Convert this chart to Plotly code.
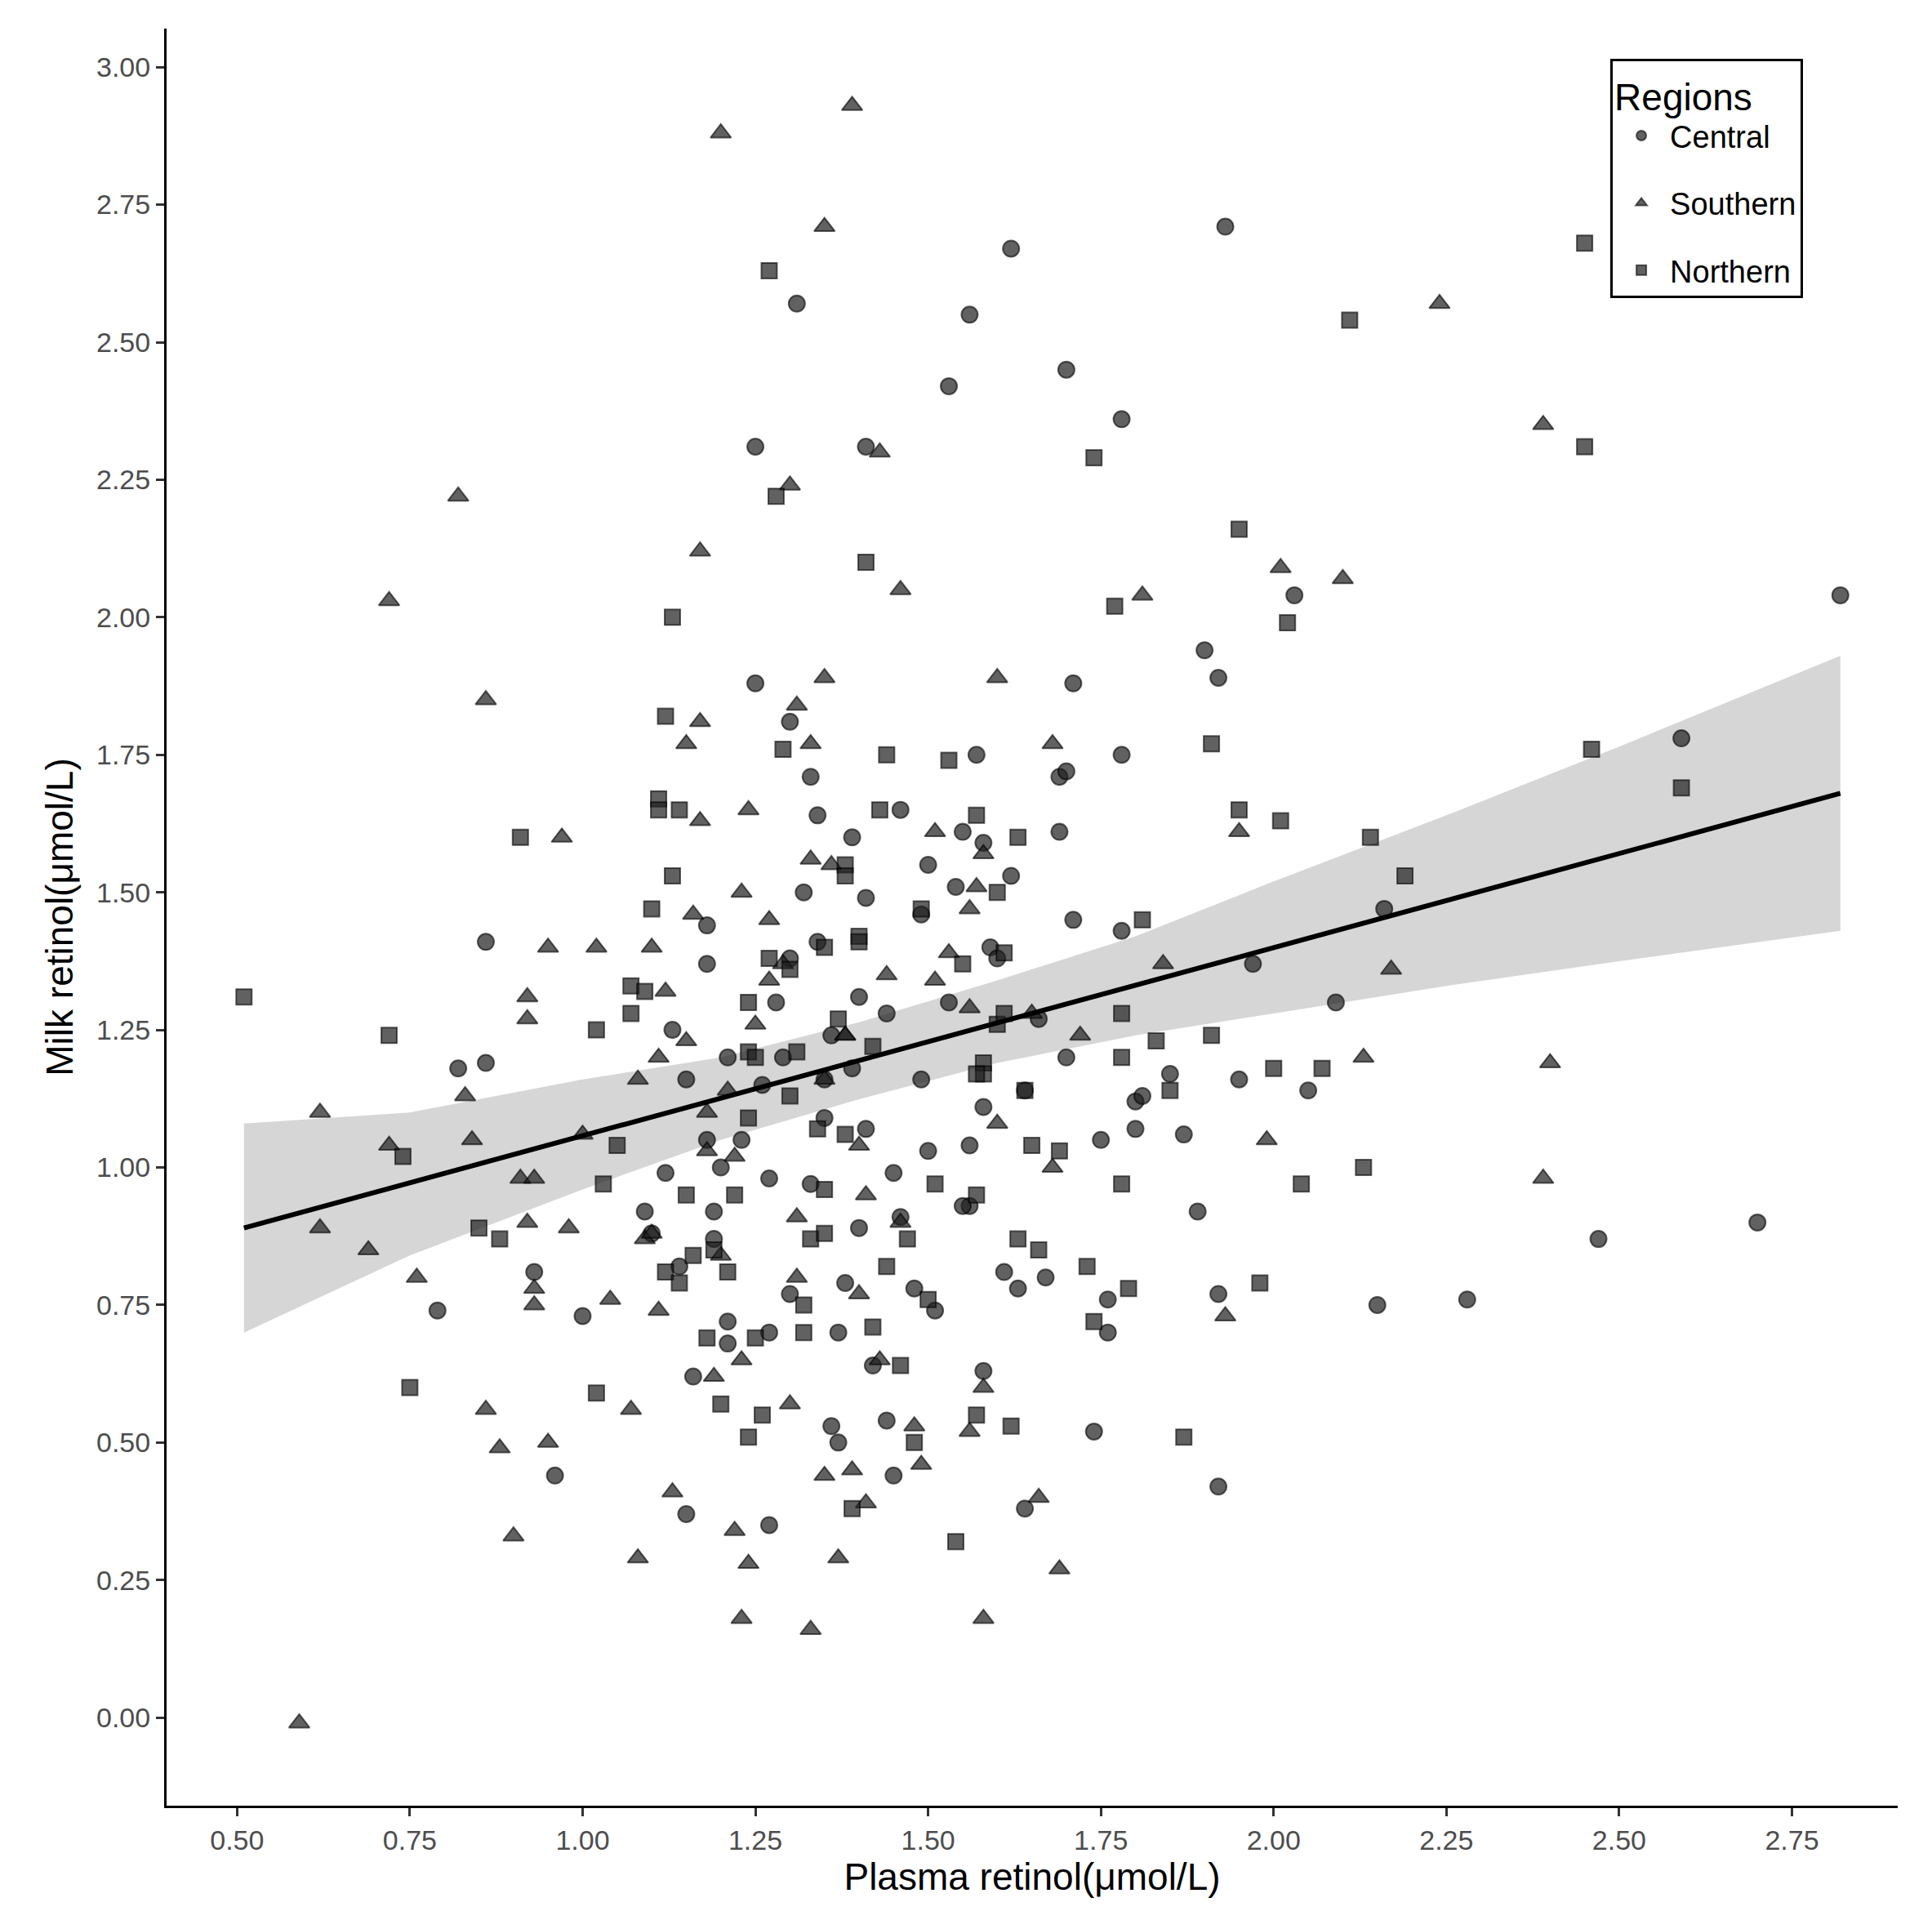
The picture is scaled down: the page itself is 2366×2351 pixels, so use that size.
import plotly.graph_objects as go

central = [(0.82,1.18),(0.86,1.19),(0.86,1.41),(0.79,0.74),(0.93,0.81),(0.96,0.44),(1.00,0.73),(1.09,0.92),(1.12,0.99),(1.13,1.25),(1.15,1.16),(1.15,0.37),(1.16,0.62),(1.18,1.05),(1.18,1.44),(1.18,1.37),(1.19,0.92),(1.19,0.87),(1.21,0.72),(1.21,0.68),(1.21,1.20),(1.25,1.88),(1.25,2.31),(1.27,0.98),(1.27,0.70),(1.27,0.35),(1.28,1.30),(1.29,1.20),(1.30,1.81),(1.30,0.77),(1.31,2.57),(1.32,1.50),(1.33,1.71),(1.34,1.64),(1.34,1.41),(1.35,1.16),(1.36,0.53),(1.37,0.50),(1.37,0.70),(1.38,0.79),(1.39,1.60),(1.39,1.18),(1.40,0.89),(1.41,2.31),(1.41,1.49),(1.41,1.07),(1.42,0.64),(1.44,0.54),(1.45,0.44),(1.45,0.99),(1.46,0.91),(1.46,1.65),(1.48,0.78),(1.49,1.46),(1.49,1.16),(1.50,1.55),(1.50,1.03),(1.51,0.74),(1.53,2.42),(1.53,1.30),(1.54,1.51),(1.55,1.61),(1.56,2.55),(1.56,1.04),(1.56,0.93),(1.57,1.75),(1.58,1.59),(1.58,1.11),(1.58,0.63),(1.59,1.40),(1.60,1.38),(1.61,0.81),(1.62,2.67),(1.62,1.53),(1.63,0.78),(1.64,0.38),(1.64,1.14),(1.66,1.27),(1.67,0.80),(1.69,1.71),(1.69,1.61),(1.70,1.72),(1.70,2.45),(1.70,1.20),(1.71,1.88),(1.71,1.45),(1.74,0.52),(1.75,1.05),(1.76,0.70),(1.76,0.76),(1.78,1.75),(1.78,2.36),(1.78,1.43),(1.80,1.12),(1.80,1.07),(1.81,1.13),(1.85,1.17),(1.87,1.06),(1.89,0.92),(1.90,1.94),(1.92,1.89),(1.92,0.77),(1.92,0.42),(1.93,2.71),(1.95,1.16),(1.97,1.37),(2.03,2.04),(2.05,1.14),(2.09,1.30),(2.15,0.75),(2.16,1.47),(2.28,0.76),(2.47,0.87),(2.59,1.78),(2.70,0.90),(2.82,2.04),(1.30,1.38),(1.33,0.97),(1.36,1.24),(1.40,1.31),(1.20,1.00),(1.26,1.15),(1.14,0.82),(1.10,0.88),(1.23,1.05),(1.55,0.93),(1.35,1.09),(1.44,1.28)]

southern = [(0.59,-0.01),(0.62,1.10),(0.62,0.89),(0.69,0.85),(0.72,1.04),(0.72,2.03),(0.76,0.80),(0.82,2.22),(0.83,1.13),(0.84,1.05),(0.86,1.85),(0.86,0.56),(0.88,0.49),(0.90,0.33),(0.91,0.98),(0.92,1.31),(0.92,1.27),(0.92,0.90),(0.93,0.78),(0.93,0.75),(0.93,0.98),(0.95,1.40),(0.95,0.50),(0.97,1.60),(0.98,0.89),(1.00,1.06),(1.02,1.40),(1.04,0.76),(1.07,0.56),(1.08,0.29),(1.08,1.16),(1.09,0.87),(1.10,1.40),(1.10,0.88),(1.11,1.20),(1.11,0.74),(1.12,1.32),(1.13,0.41),(1.15,1.77),(1.15,1.23),(1.16,1.46),(1.17,1.63),(1.17,1.81),(1.17,2.12),(1.18,1.10),(1.18,1.03),(1.19,0.62),(1.20,2.88),(1.20,0.84),(1.21,1.14),(1.22,0.34),(1.22,1.02),(1.23,0.65),(1.23,0.18),(1.23,1.50),(1.24,1.65),(1.24,0.28),(1.25,1.26),(1.27,1.34),(1.29,1.37),(1.30,2.24),(1.30,0.57),(1.31,1.84),(1.31,0.91),(1.31,0.80),(1.33,1.56),(1.33,1.77),(1.33,0.16),(1.35,1.89),(1.35,2.71),(1.35,1.16),(1.35,0.44),(1.36,1.55),(1.37,0.29),(1.38,1.24),(1.39,0.45),(1.39,2.93),(1.40,1.04),(1.40,0.77),(1.41,0.95),(1.41,0.39),(1.43,2.30),(1.43,0.65),(1.44,1.35),(1.46,2.05),(1.46,0.90),(1.48,0.53),(1.49,0.46),(1.51,1.61),(1.51,1.34),(1.53,1.39),(1.56,1.47),(1.56,1.29),(1.56,0.52),(1.57,1.51),(1.58,0.60),(1.58,0.18),(1.58,1.57),(1.60,1.89),(1.60,1.08),(1.65,1.28),(1.66,0.40),(1.68,1.77),(1.68,1.00),(1.69,0.27),(1.72,1.24),(1.81,2.04),(1.84,1.37),(1.93,0.73),(1.95,1.61),(1.99,1.05),(2.01,2.09),(2.10,2.07),(2.13,1.20),(2.17,1.36),(2.24,2.57),(2.39,2.35),(2.39,0.98),(2.40,1.19),(1.38,1.24),(1.27,1.45)]

northern = [(0.51,1.31),(0.72,1.24),(0.74,1.02),(0.75,0.60),(0.85,0.89),(0.88,0.87),(0.91,1.60),(1.02,1.25),(1.02,0.59),(1.03,0.97),(1.05,1.04),(1.07,1.33),(1.07,1.28),(1.09,1.32),(1.10,1.47),(1.11,1.67),(1.11,1.65),(1.12,1.82),(1.12,0.81),(1.13,1.53),(1.13,2.00),(1.14,1.65),(1.14,0.79),(1.15,0.95),(1.16,0.84),(1.18,0.69),(1.19,0.85),(1.20,0.57),(1.21,0.81),(1.22,0.95),(1.24,1.30),(1.24,1.21),(1.24,1.09),(1.24,0.51),(1.25,0.69),(1.26,0.55),(1.27,2.63),(1.27,1.38),(1.28,2.22),(1.29,1.76),(1.30,1.36),(1.31,1.21),(1.32,0.75),(1.32,0.70),(1.33,0.87),(1.34,1.07),(1.35,0.96),(1.35,1.40),(1.35,0.88),(1.37,1.27),(1.38,1.55),(1.38,1.53),(1.38,1.06),(1.39,0.38),(1.40,1.42),(1.40,1.41),(1.41,2.10),(1.42,1.22),(1.42,0.71),(1.43,1.65),(1.44,1.75),(1.44,0.82),(1.46,0.64),(1.47,0.87),(1.48,0.50),(1.49,1.47),(1.50,0.76),(1.51,0.97),(1.53,1.74),(1.54,0.32),(1.55,1.37),(1.57,1.64),(1.57,0.95),(1.57,0.55),(1.58,1.19),(1.58,1.17),(1.60,1.50),(1.60,1.26),(1.61,1.28),(1.61,1.39),(1.62,0.53),(1.63,0.87),(1.63,1.60),(1.64,1.14),(1.65,1.04),(1.66,0.85),(1.69,1.03),(1.73,0.82),(1.74,2.29),(1.74,0.72),(1.77,2.02),(1.78,1.28),(1.78,1.20),(1.78,0.97),(1.79,0.78),(1.81,1.45),(1.83,1.23),(1.85,1.14),(1.87,0.51),(1.91,1.77),(1.91,1.24),(1.95,2.16),(1.95,1.65),(1.98,0.79),(2.00,1.18),(2.01,1.63),(2.02,1.99),(2.04,0.97),(2.07,1.18),(2.11,2.54),(2.13,1.00),(2.14,1.60),(2.19,1.53),(2.45,2.31),(2.45,2.68),(2.46,1.76),(2.59,1.69),(1.57,1.17),(1.25,1.20),(1.30,1.13)]

fit_x = [0.51, 0.75, 1.0, 1.2, 1.4, 1.6, 1.8, 2.0, 2.25, 2.5, 2.82]
fit_y = [0.89, 0.972, 1.057, 1.126, 1.194, 1.263, 1.331, 1.40, 1.485, 1.57, 1.68]
ci_lo = [0.70, 0.84, 0.96, 1.05, 1.124, 1.19, 1.24, 1.28, 1.33, 1.375, 1.43]
ci_hi = [1.08, 1.10, 1.16, 1.20, 1.264, 1.34, 1.42, 1.52, 1.64, 1.765, 1.93]

fig = go.Figure()
fig.add_trace(go.Scatter(x=fit_x + fit_x[::-1], y=ci_hi + ci_lo[::-1], fill="toself",
                         fillcolor="rgba(153,153,153,0.4)", line=dict(width=0),
                         mode="lines", showlegend=False, hoverinfo="skip"))

def add(pts, name, sym, size):
    fig.add_trace(go.Scatter(x=[p[0] for p in pts], y=[p[1] for p in pts], mode="markers", name=name,
                             legendgroup=name,
                             marker=dict(symbol=sym, size=size, color="rgba(30,30,30,0.7)",
                                         line=dict(width=2, color="rgba(0,0,0,0.6)"))))
add(central, "Central", "circle", 20)
add(southern, "Southern", "triangle-up", 22)
add(northern, "Northern", "square", 19)

fig.add_trace(go.Scatter(x=fit_x, y=fit_y, mode="lines", line=dict(color="black", width=6),
                         showlegend=False))

tick = dict(family="Liberation Sans, Arial", size=34, color="#4d4d4d")
fig.update_layout(
    width=2366, height=2351, plot_bgcolor="white", paper_bgcolor="white",
    margin=dict(l=196, r=50, t=27, b=148),
    font=dict(family="Liberation Sans, Arial", color="black"),
    legend=dict(title=dict(text="Regions", font=dict(size=46)), font=dict(size=38),
                x=0.834, y=0.983, xanchor="left", yanchor="top",
                bordercolor="black", borderwidth=3, bgcolor="white",
                itemsizing="constant", tracegroupgap=30, itemwidth=60),
    xaxis=dict(range=[0.398, 2.903], tickvals=[0.5,0.75,1,1.25,1.5,1.75,2,2.25,2.5,2.75],
               ticktext=["0.50","0.75","1.00","1.25","1.50","1.75","2.00","2.25","2.50","2.75"],
               showgrid=False, zeroline=False, showline=True, linecolor="black", linewidth=3,
               ticks="outside", ticklen=10, tickwidth=3, tickcolor="#333", tickfont=tick,
               title=dict(text="Plasma retinol(μmol/L)", font=dict(size=46), standoff=12)),
    yaxis=dict(range=[-0.16, 3.07], tickvals=[0,0.25,0.5,0.75,1,1.25,1.5,1.75,2,2.25,2.5,2.75,3],
               ticktext=["0.00","0.25","0.50","0.75","1.00","1.25","1.50","1.75","2.00","2.25","2.50","2.75","3.00"],
               showgrid=False, zeroline=False, showline=True, linecolor="black", linewidth=3,
               ticks="outside", ticklen=10, tickwidth=3, tickcolor="#333", tickfont=tick,
               title=dict(text="Milk retinol(μmol/L)", font=dict(size=46), standoff=14)),
)
fig.write_html("out.html")
